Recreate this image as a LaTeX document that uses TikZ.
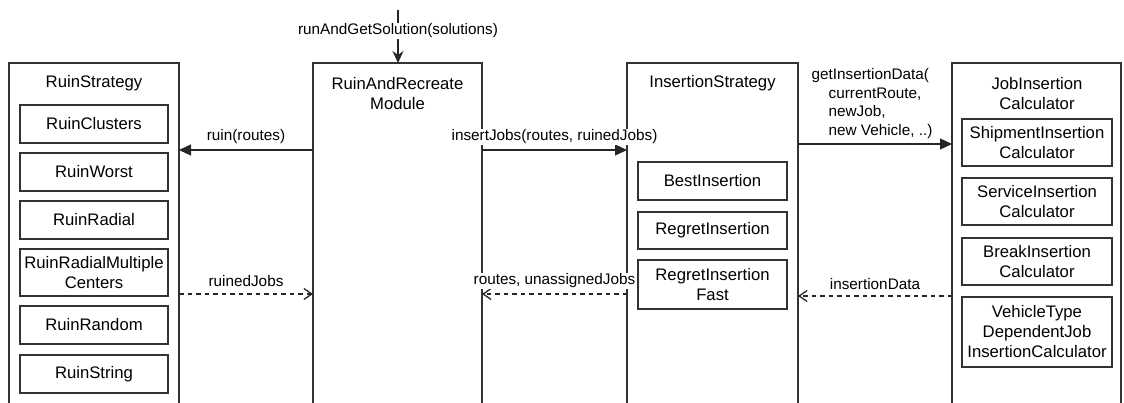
\documentclass[tikz,border=0pt]{standalone}
\usepackage{fontspec}
\setmainfont{Liberation Sans}
\usetikzlibrary{arrows.meta}
\newcommand\boxfont{\fontsize{16.7}{20}\selectfont}
\newcommand\lblfont{\fontsize{15.3}{18.4}\selectfont}
\tikzset{
  frame/.style={line width=1.3pt, draw=black!80},
  bigbox/.style={draw=none, inner sep=0pt, outer sep=0pt, anchor=north west, minimum height=340pt},
  title/.style={font=\boxfont, align=center, inner sep=0pt},
  item/.style={draw=black!80, line width=1.3pt, font=\boxfont, align=center, inner sep=0pt, outer sep=0pt},
  lbl/.style={font=\lblfont, fill=white, inner sep=1pt},
  call/.style={line width=1.3pt, draw=black!85, -{Triangle[length=12pt,width=11pt]}},
  reply/.style={line width=1.3pt, draw=black!85, dash pattern=on 4.5pt off 4pt,
                -{Straight Barb[length=8pt,width=11pt]}},
}
\begin{document}
\begin{tikzpicture}[x=1pt,y=-1pt]
\useasboundingbox (0,0) rectangle (1124,403);

% the four component frames (open at the bottom)
\node[bigbox, minimum width=170pt] (rs) at (9,63) {};
\node[bigbox, minimum width=169pt] (rr) at (313,63) {};
\node[bigbox, minimum width=171pt] (is) at (627,63) {};
\node[bigbox, minimum width=169pt] (jc) at (952,63) {};
\foreach \b in {rs,rr,is,jc}
  \draw[frame] (\b.south west) -- (\b.north west) -- (\b.north east) -- (\b.south east);

% frame titles
\node[title] (rsT) at (94,83) {RuinStrategy};
\node[title] (rrT) at (397.5,93.5) {RuinAndRecreate\\Module};
\node[title] (isT) at (712.5,83) {InsertionStrategy};
\node[title] (jcT) at (1037,93.5) {JobInsertion\\Calculator};

% ruin strategies
\node[item, minimum width=148pt, minimum height=38pt] (r1) at (94,124) {RuinClusters};
\node[item, minimum width=148pt, minimum height=38pt] (r2) at (94,172) {RuinWorst};
\node[item, minimum width=148pt, minimum height=38pt] (r3) at (94,220) {RuinRadial};
\node[item, minimum width=148pt, minimum height=47pt] (r4) at (94,272.5) {RuinRadialMultiple\\Centers};
\node[item, minimum width=148pt, minimum height=38pt] (r5) at (94,325) {RuinRandom};
\node[item, minimum width=148pt, minimum height=38pt] (r6) at (94,374) {RuinString};

% insertion strategies
\node[item, minimum width=149pt, minimum height=38pt] (i1) at (712.5,181) {BestInsertion};
\node[item, minimum width=149pt, minimum height=37pt] (i2) at (712.5,230.5) {RegretInsertion};
\node[item, minimum width=149pt, minimum height=49pt] (i3) at (712.5,284.5) {RegretInsertion\\Fast};

% insertion calculators
\node[item, minimum width=150pt, minimum height=47pt] (c1) at (1037,142.5) {ShipmentInsertion\\Calculator};
\node[item, minimum width=150pt, minimum height=47pt] (c2) at (1037,201.5) {ServiceInsertion\\Calculator};
\node[item, minimum width=150pt, minimum height=47pt] (c3) at (1037,261.5) {BreakInsertion\\Calculator};
\node[item, minimum width=150pt, minimum height=70pt] (c4) at (1037,332) {VehicleType\\DependentJob\\InsertionCalculator};

% message rows
\coordinate (entry) at (398,10);
\coordinate (row1) at (0,150);
\coordinate (row2) at (0,294);
\coordinate (row3) at (0,144);
\coordinate (row4) at (0,296);

% messages
\draw[line width=1.3pt, draw=black!85, -{Stealth[length=12pt,width=11pt,inset=4pt]}]
  (entry) -- (entry |- rr.north) node[lbl, pos=0.396] {runAndGetSolution(solutions)};
\draw[call] (rr.west |- row1) -- (rs.east |- row1)
  node[lbl, midway, yshift=13pt] {ruin(routes)};
\draw[reply] (rs.east |- row2) -- (rr.west |- row2)
  node[lbl, midway, yshift=13pt] {ruinedJobs};
\draw[call] (rr.east |- row1) -- (is.west |- row1)
  node[lbl, midway, yshift=13pt] {insertJobs(routes, ruinedJobs)};
\draw[reply] (is.west |- row2) -- (rr.east |- row2)
  node[lbl, midway, yshift=13pt] {routes, unassignedJobs};
\draw[call] (is.east |- row3) -- (jc.west |- row3)
  node[lbl, at start, anchor=west, xshift=13pt, yshift=40.5pt, align=left, inner sep=0pt]
  {getInsertionData(\\\hspace*{17pt}currentRoute,\\\hspace*{17pt}newJob,\\\hspace*{17pt}new Vehicle, ..)};
\draw[reply] (jc.west |- row4) -- (is.east |- row4)
  node[lbl, midway, yshift=12pt] {insertionData};
\end{tikzpicture}
\end{document}
